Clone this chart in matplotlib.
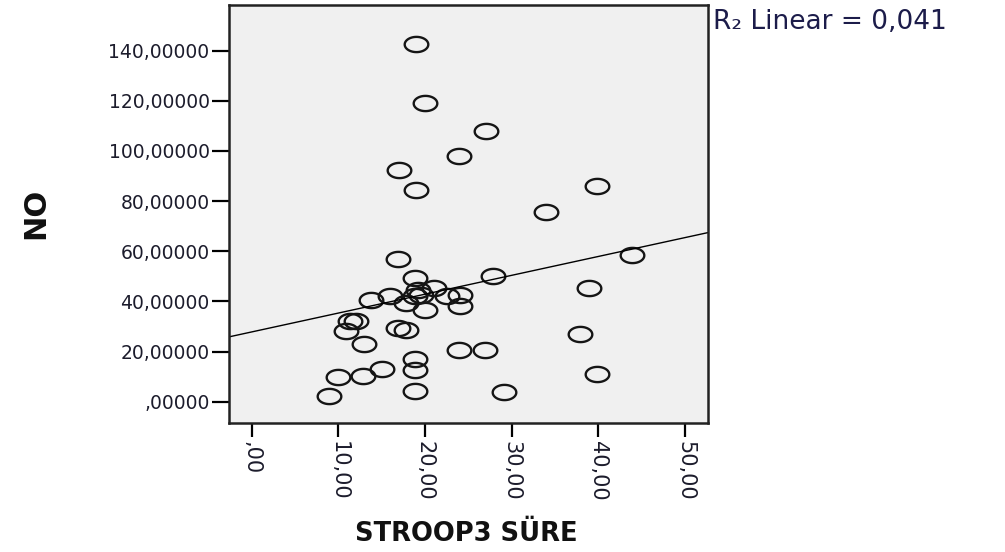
import numpy as np
import matplotlib
matplotlib.use("Agg")
import matplotlib.pyplot as plt
from matplotlib.path import Path
from matplotlib.ticker import FuncFormatter

# STROOP3 SURE (x) vs NO (y)
stroop3 = [19.0, 20.0, 27.0, 23.9, 17.0, 19.0, 39.9, 34.0, 43.9, 38.9,
           37.9, 39.9, 29.1, 16.9, 18.9, 27.9, 21.1, 13.8, 16.0, 17.8,
           18.8, 19.6, 20.0, 22.6, 24.0, 24.0, 11.3, 12.1, 10.9, 13.0,
           16.9, 17.8, 23.9, 26.9, 18.9, 18.9, 15.0, 12.8, 10.0, 8.9,
           18.9, 19.2]
no_vals = [142.8, 119.1, 107.8, 98.1, 92.5, 84.6, 86.2, 75.5, 58.6, 45.3,
           27.1, 11.2, 4.0, 57.0, 49.3, 50.0, 45.4, 40.4, 42.3, 39.4,
           42.0, 42.7, 36.7, 42.0, 42.7, 38.3, 32.0, 32.0, 28.0, 23.0,
           29.4, 28.7, 20.7, 20.7, 17.1, 12.8, 13.2, 10.1, 9.8, 2.4,
           4.1, 44.7]

x_ticks = [0, 10, 20, 30, 40, 50]
y_ticks = [0, 20, 40, 60, 80, 100, 120, 140]
r2_text = "R\u2082 Linear = 0,041"

x = np.array(stroop3)
y = np.array(no_vals)
slope, intercept = np.polyfit(x, y, 1)


def comma_fmt(v, digits):
    s = f"{v:.{digits}f}".replace(".", ",")
    if s.startswith("0,"):
        s = s[1:]
    return s


# image is stretched sideways, so use a wide ellipse as marker
t = np.linspace(0, 2 * np.pi, 60)
ellipse = Path(np.column_stack([1.55 * np.cos(t), np.sin(t)]), closed=True)

fig = plt.figure(figsize=(10.05, 5.52), dpi=100)
ax = fig.add_axes([0.2279, 0.2342, 0.4769, 0.7567])
ax.set_facecolor("#f0f0f0")

ax.plot(x, y, linestyle="none", marker=ellipse, markersize=17,
        markerfacecolor="none", markeredgecolor="#151515", markeredgewidth=1.7)

xlim = (-2.6, 52.7)
xs = np.array(xlim)
ax.plot(xs, intercept + slope * xs, color="black", lw=1.0)
ax.set_xlim(*xlim)
ax.set_ylim(-8.4, 158.2)

ax.set_xticks(x_ticks)
ax.set_yticks(y_ticks)
ax.xaxis.set_major_formatter(FuncFormatter(lambda v, p: comma_fmt(v, 2)))
ax.yaxis.set_major_formatter(FuncFormatter(lambda v, p: comma_fmt(v, 5)))

lab_col = "#1c1c2c"
ax.tick_params(axis="y", direction="out", length=12, width=1.6, pad=2,
               labelsize=13.5, labelcolor=lab_col)
ax.tick_params(axis="x", direction="out", length=10, width=1.6, pad=3,
               labelsize=15, labelcolor=lab_col, labelrotation=-90)
for s in ax.spines.values():
    s.set_linewidth(1.8)
    s.set_color("#222222")

ax.set_ylabel("NO", fontsize=22, fontweight="bold", color="#111111")
ax.yaxis.set_label_coords(-0.372, 0.5)
ax.set_xlabel("STROOP3 S\u00dcRE", fontsize=18.5, fontweight="bold", color="#111111", va="top")
ax.xaxis.set_label_coords(0.495, -0.235)

fig.text(0.709, 0.960, r2_text, fontsize=19, color="#1c1c4a", va="center", ha="left")

fig.savefig("out.png", dpi=100)
